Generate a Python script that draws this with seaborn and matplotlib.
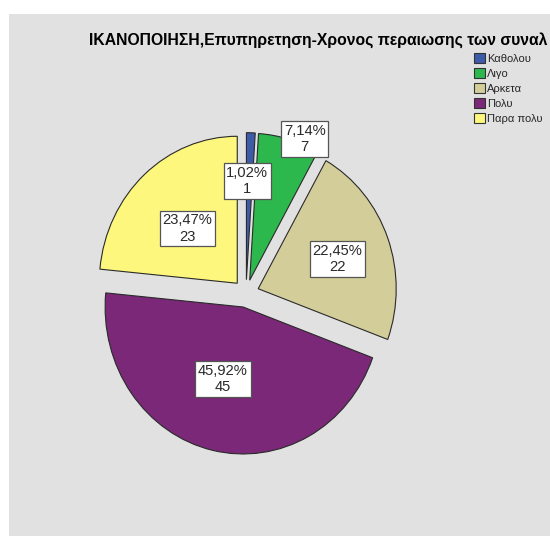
import numpy as np
import matplotlib
matplotlib.use("Agg")
import matplotlib.pyplot as plt
from matplotlib.patches import Patch
import seaborn as sns

# Survey answers and counts
categories = ["Καθολου", "Λιγο", "Αρκετα", "Πολυ", "Παρα πολυ"]
counts = [1, 7, 22, 45, 23]
title = "ΙΚΑΝΟΠΟΙΗΣΗ,Επυπηρετηση-Χρονος περαιωσης των συναλ"

sns.set_style("white")
plt.rcParams["font.family"] = ["Liberation Sans", "DejaVu Sans"]

colors = sns.color_palette(["#3e5ba9", "#2db84d", "#d3ce99", "#7a2877", "#fdf87d"])

W, H = 550, 536
fig = plt.figure(figsize=(W / 100, H / 100), dpi=100)
fig.patch.set_facecolor("white")

# grey chart panel
bg = fig.add_axes([9 / W, 0, 1 - 9 / W, 1 - 14 / H], zorder=0)
bg.set_facecolor("#e1e1e1")
bg.set_xticks([])
bg.set_yticks([])
for s in bg.spines.values():
    s.set_visible(False)

ax = fig.add_axes([0, 0, 1, 1], zorder=1)
ax.set_facecolor("none")

sy = 1.065            # slight vertical stretch of the pie
r = 138
cx, cy = 246, (H - 293.5) / sy
expl = 13

wedges, _ = ax.pie(counts, colors=colors, startangle=90, counterclock=False,
                   center=(cx, cy), radius=r, explode=[expl] * len(counts),
                   wedgeprops=dict(edgecolor="#2a2a2a", linewidth=0.8))
ax.set_aspect("auto")
ax.set_xlim(0, W)
ax.set_ylim(0, H / sy)
ax.axis("off")

total = sum(counts)
label_frac = [0.67, 1.04, 0.61, 0.51, 0.52]
label_shift = [-1.3, 6.0, 0.7, 3.7, -1.9]
for w, v, f, s in zip(wedges, counts, label_frac, label_shift):
    mid = np.deg2rad(0.5 * (w.theta1 + w.theta2) - s)
    x0, y0 = w.center
    tx = x0 + f * r * np.cos(mid)
    ty = y0 + f * r * np.sin(mid)
    txt = f"{v / total * 100:.2f}%".replace(".", ",") + f"\n{v}"
    ax.text(tx, ty, txt, ha="center", va="center", fontsize=10.6,
            color="#2a2a2a", linespacing=1.2,
            bbox=dict(boxstyle="square,pad=0.18", facecolor="white",
                      edgecolor="#555555", linewidth=0.9))

fig.text(89 / W, 1 - 40 / H, title, ha="left", va="center",
         fontsize=11.3, fontweight="bold", color="black")

handles = [Patch(facecolor=c, edgecolor="#333333", linewidth=0.8) for c in colors]
fig.legend(handles, categories, loc="upper left",
           bbox_to_anchor=(474 / W, 1 - 53 / H), frameon=False, fontsize=8,
           handlelength=1.0, handleheight=1.0, handletextpad=0.15,
           labelspacing=0.38, borderpad=0, borderaxespad=0)

fig.savefig("out.png", dpi=100, facecolor="white")
